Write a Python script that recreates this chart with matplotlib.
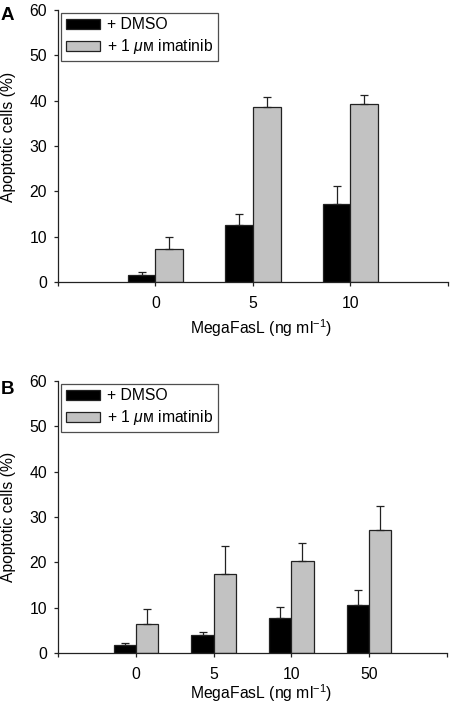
import numpy as np
import matplotlib
matplotlib.use("Agg")
import matplotlib.pyplot as plt

plt.rcParams['font.family'] = ['Liberation Sans', 'DejaVu Sans']
plt.rcParams['mathtext.fontset'] = 'custom'
plt.rcParams['mathtext.rm'] = 'Liberation Sans'
plt.rcParams['mathtext.it'] = 'Liberation Sans:italic'

# Panel A data
cats_a = ['0', '5', '10']
dmso_a = [1.6, 12.6, 17.3]
dmso_a_err = [0.5, 2.3, 3.8]
imat_a = [7.3, 38.5, 39.2]
imat_a_err = [2.7, 2.2, 2.1]

# Panel B data
cats_b = ['0', '5', '10', '50']
dmso_b = [1.8, 3.9, 7.7, 10.6]
dmso_b_err = [0.3, 0.7, 2.4, 3.4]
imat_b = [6.5, 17.4, 20.3, 27.1]
imat_b_err = [3.1, 6.1, 4.0, 5.4]

labels = ['+ DMSO', r'+ 1 $\mu$ᴍ imatinib']
xlabel = r'MegaFasL (ng ml$^{-1}$)'
ylabel = 'Apoptotic cells (%)'
yticks = [0, 10, 20, 30, 40, 50, 60]

FS = 11.3
EC = '#222222'
fig = plt.figure(figsize=(4.52, 7.04), dpi=100)
W, H = 452, 704

def panel(rect_px, cats, d, de, im, ie, letter, letter_top, ylab_y, xlab_y):
    l, b, r, t = rect_px
    ax = fig.add_axes([l / W, 1 - b / H, (r - l) / W, (b - t) / H])
    n = len(cats)
    x = np.arange(1, n + 1)
    w = 0.285
    ax.bar(x - w / 2, d, width=w, color='black', edgecolor=EC, linewidth=0.9, label=labels[0], zorder=2)
    ax.bar(x + w / 2, im, width=w, color='#c2c2c2', edgecolor=EC, linewidth=0.9, label=labels[1], zorder=2)
    ax.errorbar(x - w / 2, d, yerr=[np.zeros(n), de], fmt='none', ecolor=EC, elinewidth=0.9, capsize=2.6, capthick=0.9, zorder=3)
    ax.errorbar(x + w / 2, im, yerr=[np.zeros(n), ie], fmt='none', ecolor=EC, elinewidth=0.9, capsize=2.6, capthick=0.9, zorder=3)
    ax.set_xlim(0, n + 1)
    ax.set_ylim(0, 60)
    ax.set_yticks(yticks)
    ax.set_xticks(np.arange(0, n + 2))
    ax.set_xticklabels([''] + cats + [''])
    for s in ['top', 'right']:
        ax.spines[s].set_visible(False)
    for s in ['left', 'bottom']:
        ax.spines[s].set_linewidth(0.9)
        ax.spines[s].set_color(EC)
    ax.tick_params(axis='both', direction='out', length=3, width=0.9, color=EC, labelsize=FS)
    ax.tick_params(axis='x', pad=7)
    ax.tick_params(axis='y', pad=5)
    fig.text(261 / W, 1 - xlab_y / H, xlabel, fontsize=FS, ha='center', va='center')
    fig.text(9 / W, 1 - ylab_y / H, ylabel, fontsize=FS, ha='center', va='center', rotation=90)
    leg = ax.legend(loc='upper left', bbox_to_anchor=(0.008, 0.99), borderaxespad=0,
                    fontsize=FS, frameon=True, fancybox=False, handlelength=2.2,
                    handleheight=0.6, handletextpad=0.45, labelspacing=0.3, borderpad=0.3)
    leg.get_frame().set_edgecolor(EC)
    leg.get_frame().set_linewidth(0.9)
    fig.text(1 / W, 1 - letter_top / H, letter, fontsize=13.5, fontweight='bold', va='top', ha='left')
    return ax

panel((58, 282, 448, 10), cats_a, dmso_a, dmso_a_err, imat_a, imat_a_err, 'A', 7, 137, 328)
panel((58, 653, 447, 381), cats_b, dmso_b, dmso_b_err, imat_b, imat_b_err, 'B', 381, 517, 693)

fig.savefig('out.png', dpi=100)
